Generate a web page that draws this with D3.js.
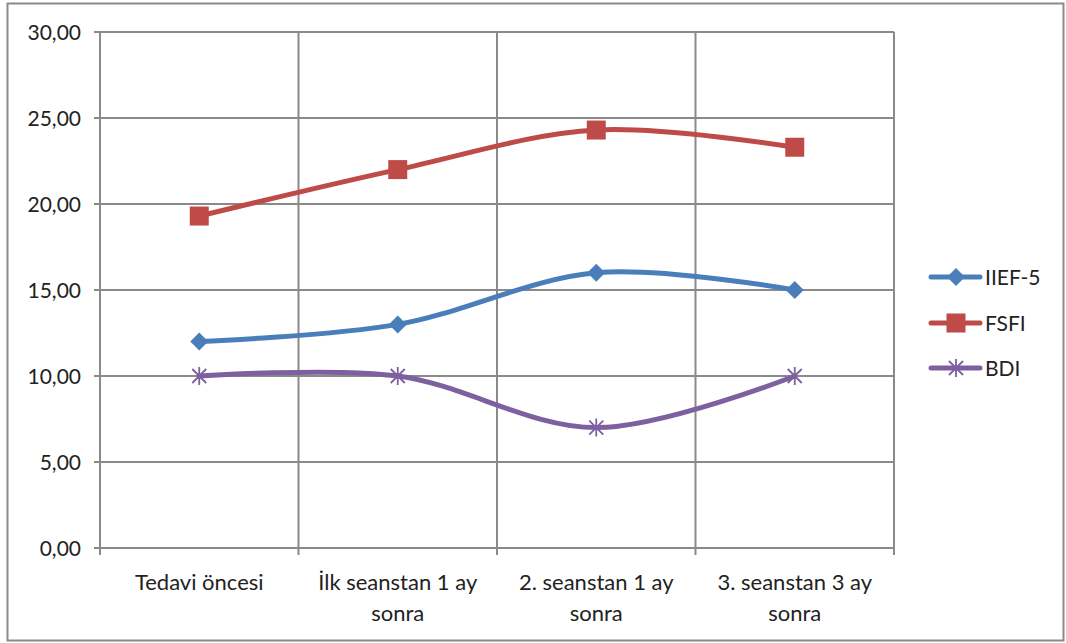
<!DOCTYPE html>
<html><head><meta charset="utf-8">
<script src="https://cdn.jsdelivr.net/npm/d3@7"></script>
<style>body{margin:0;background:#fff}svg{display:block}text{font-family:Lato,"Open Sans",sans-serif;fill:#222}</style>
</head><body><svg id="c" width="1066" height="643"></svg>
<script>
const categories = [["Tedavi öncesi"], ["İlk seanstan 1 ay", "sonra"], ["2. seanstan 1 ay", "sonra"], ["3. seanstan 3 ay", "sonra"]];
const seriesNames = ["IIEF-5", "FSFI", "BDI"];
const iief5 = [12, 13, 16, 15];
const fsfi = [19.3, 22, 24.3, 23.3];
const bdi = [10, 10, 7, 10];
const yTicks = [0, 5, 10, 15, 20, 25, 30];
const colors = ["#4A7EBB", "#BE4B48", "#7D60A0"];

const svg = d3.select("#c");
const L = 100, R = 894, T = 32, B = 548;
svg.append("rect").attr("x", 7.5).attr("y", 3.5).attr("width", 1056).attr("height", 637)
  .attr("fill", "#fff").attr("stroke", "#8a8a8a").attr("stroke-width", 2);

const idx = categories.map((d, i) => i);
const x = d3.scalePoint().domain(idx).range([L, R]).padding(0.5);
const xb = d3.scaleLinear().domain([0, categories.length]).range([L, R]);
const y = d3.scaleLinear().domain([0, 30]).range([B, T]);
const fmt = d3.formatLocale({decimal: ",", thousands: ".", grouping: [3], currency: ["", ""]}).format(".2f");

const grid = svg.append("g").attr("stroke", "#8a8a8a").attr("stroke-width", 2);
yTicks.forEach(t => grid.append("line").attr("x1", L - 6).attr("x2", R).attr("y1", y(t)).attr("y2", y(t)));
d3.range(categories.length + 1).forEach(i => grid.append("line").attr("x1", xb(i)).attr("x2", xb(i)).attr("y1", T).attr("y2", B + 7));

svg.append("g").selectAll("text").data(yTicks).join("text")
  .attr("x", 81).attr("y", d => y(d)).attr("dy", "0.36em").attr("text-anchor", "end")
  .attr("font-size", 21).text(d => fmt(d));

const xl = svg.append("g").selectAll("text").data(idx).join("text")
  .attr("text-anchor", "middle").attr("font-size", 22);
xl.each(function(i) {
  const t = d3.select(this);
  categories[i].forEach((s, k) => t.append("tspan").attr("x", x(i)).attr("y", 590 + k * 31).text(s));
});

const data = [iief5, fsfi, bdi];
const line = d3.line().x((d, i) => x(i)).y(d => y(d)).curve(d3.curveCardinal.tension(0));

function marker(g, k, c) {
  if (k === 0) g.append("path").attr("d", "M0,-9L9,0L0,9L-9,0Z").attr("fill", c);
  else if (k === 1) g.append("rect").attr("x", -9.5).attr("y", -9.5).attr("width", 19).attr("height", 19).attr("fill", c);
  else g.append("path").attr("d", "M-7,-7L7,7M7,-7L-7,7M0,-9L0,9").attr("stroke", c).attr("stroke-width", 1.8).attr("fill", "none");
}

data.forEach((vals, k) => {
  svg.append("path").datum(vals).attr("d", line).attr("fill", "none")
    .attr("stroke", colors[k]).attr("stroke-width", 5).attr("stroke-linecap", "round");
  vals.forEach((v, i) => {
    const g = svg.append("g").attr("transform", `translate(${x(i)},${y(v)})`);
    marker(g, k, colors[k]);
  });
});

const legY = [277, 323, 368];
seriesNames.forEach((n, k) => {
  const g = svg.append("g").attr("transform", `translate(0,${legY[k]})`);
  g.append("line").attr("x1", 931).attr("x2", 980).attr("stroke", colors[k]).attr("stroke-width", 5).attr("stroke-linecap", "round");
  const m = g.append("g").attr("transform", "translate(956,0)");
  marker(m, k, colors[k]);
  g.append("text").attr("x", 985).attr("dy", "0.36em").attr("font-size", 21).text(n);
});
</script></body></html>
